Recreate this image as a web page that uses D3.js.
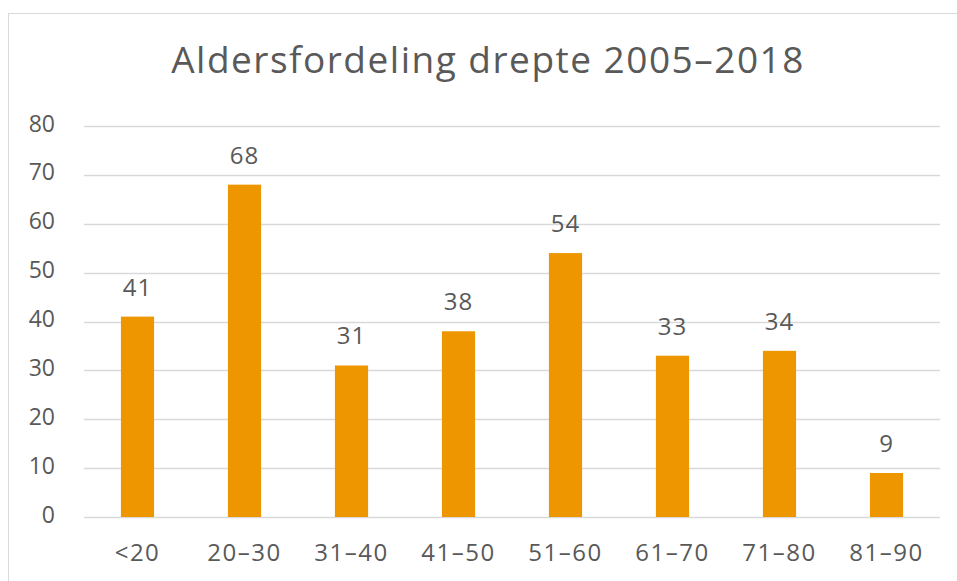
<!DOCTYPE html>
<html>
<head>
<meta charset="utf-8">
<script src="https://cdn.jsdelivr.net/npm/d3@7"></script>
<style>
  body { margin: 0; background: #fff; }
  text { font-family: "Open Sans", "DejaVu Sans", sans-serif; fill: #595959; }
</style>
</head>
<body>
<svg width="957" height="581"></svg>
<script>
// age groups and number of killed
const categories = ["<20", "20–30", "31–40", "41–50", "51–60", "61–70", "71–80", "81–90"]
const values = [41, 68, 31, 38, 54, 33, 34, 9]
const yTicks = [0, 10, 20, 30, 40, 50, 60, 70, 80]
const title = "Aldersfordeling drepte 2005–2018"

const svg = d3.select("svg")
const plotLeft = 84, plotRight = 940, plotTop = 126, plotBottom = 517

// chart border (only left/top visible in the crop)
svg.append("rect")
  .attr("x", 8.5).attr("y", 13.5)
  .attr("width", 980).attr("height", 600)
  .attr("fill", "none")
  .attr("stroke", "#d9d9d9")

const x = d3.scaleBand()
  .domain(categories)
  .range([plotLeft, plotRight])
  .paddingInner(0.69)
  .paddingOuter(0.345)

const y = d3.scaleLinear()
  .domain([0, 80])
  .range([plotBottom, plotTop])

// gridlines
svg.append("g")
  .selectAll("line")
  .data(yTicks)
  .enter()
  .append("line")
  .attr("x1", plotLeft).attr("x2", plotRight)
  .attr("y1", d => Math.round(y(d)) + 0.5)
  .attr("y2", d => Math.round(y(d)) + 0.5)
  .attr("stroke", "#d9d9d9")
  .attr("stroke-width", 1.5)

// y axis labels
let yAxis = svg.append("g")
  .attr("transform", `translate(${plotLeft - 29},0)`)
  .call(d3.axisLeft(y).tickValues(yTicks).tickSize(0).tickPadding(0))
yAxis.select(".domain").remove()
yAxis.selectAll("text")
  .style("font-size", "23px")
  .attr("fill", "#595959")
  .attr("y", 5)
  .attr("dy", 0)

// x axis labels
let xAxis = svg.append("g")
  .attr("transform", `translate(0,${plotBottom})`)
  .call(d3.axisBottom(x).tickSize(0))
xAxis.select(".domain").remove()
xAxis.selectAll("text")
  .style("font-size", "24px")
  .style("letter-spacing", "1.5px")
  .attr("fill", "#595959")
  .attr("y", 44)
  .attr("dy", 0)

// bars
svg.append("g")
  .selectAll("rect")
  .data(values)
  .enter()
  .append("rect")
  .attr("x", (d, i) => x(categories[i]))
  .attr("y", d => y(d))
  .attr("width", x.bandwidth())
  .attr("height", d => y(0) - y(d))
  .attr("fill", "#ed9600")

// value labels
svg.append("g")
  .selectAll("text")
  .data(values)
  .enter()
  .append("text")
  .attr("x", (d, i) => x(categories[i]) + x.bandwidth() / 2)
  .attr("y", d => y(d) - 21)
  .attr("text-anchor", "middle")
  .style("font-size", "24px")
  .style("letter-spacing", "1px")
  .text(d => d)

svg.append("text")
  .attr("x", 488)
  .attr("y", 73)
  .attr("text-anchor", "middle")
  .style("font-size", "37px")
  .style("letter-spacing", "1.5px")
  .text(title)
</script>
</body>
</html>
